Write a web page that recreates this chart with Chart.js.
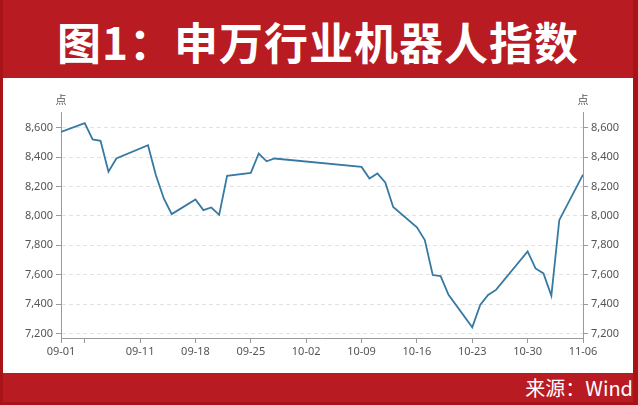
<!DOCTYPE html>
<html>
<head>
<meta charset="utf-8">
<script src="https://cdn.jsdelivr.net/npm/chart.js@4.4.0/dist/chart.umd.min.js"></script>
<style>
  html, body { margin: 0; padding: 0; }
  body { width: 638px; height: 405px; background: #a91318; position: relative; overflow: hidden; }
  #title { position: absolute; left: 3px; top: 0; width: 630px; height: 78px; background: #b81b21;
    color: #fff; font: bold 44px "Noto Sans CJK SC", sans-serif; text-align: center; line-height: 82px; letter-spacing: 1px; }
  #wrap { position: absolute; left: 3px; top: 78px; width: 630px; height: 295px; background: #fff; }
  #foot { position: absolute; left: 3px; top: 373px; width: 630px; height: 29px; background: #b81b21;
    color: #fff; font: 20px "Noto Sans CJK SC", sans-serif; text-align: right; line-height: 30px; }
</style>
</head>
<body>
<div id="title">图1：申万行业机器人指数</div>
<div id="wrap"><canvas id="c" width="630" height="295"></canvas></div>
<div id="foot">来源：Wind</div>
<script>
// trading dates and index close (points)
const dates = ['09-01','09-04','09-05','09-06','09-07','09-08','09-12','09-13','09-14','09-15',
  '09-18','09-19','09-20','09-21','09-22','09-25','09-26','09-27','09-28',
  '10-09','10-10','10-11','10-12','10-13','10-16','10-17','10-18','10-19','10-20',
  '10-23','10-24','10-25','10-26','10-30','10-31','11-01','11-02','11-03','11-06'];
const values = [8570, 8631, 8520, 8510, 8300, 8390, 8480, 8276, 8118, 8012,
  8112, 8039, 8057, 8007, 8272, 8292, 8424, 8371, 8390,
  8333, 8254, 8288, 8227, 8061, 7922, 7836, 7598, 7591, 7463,
  7243, 7394, 7463, 7497, 7759, 7643, 7609, 7457, 7971, 8280];
const xTickDates = ['09-01','09-04','09-11','09-18','09-25','10-02','10-09','10-16','10-23','10-30','11-06'];
const xTickLabels = ['09-01','','09-11','09-18','09-25','10-02','10-09','10-16','10-23','10-30','11-06'];
const yTicks = [7200, 7400, 7600, 7800, 8000, 8200, 8400, 8600];

// days since 09-01
const monthStart = { '09': 0, '10': 30, '11': 61 };
function dayOf(d) {
  const [m, dd] = d.split('-');
  return monthStart[m] + Number(dd) - 1;
}
const xTickVals = xTickDates.map(dayOf);

const tickFont = { family: '"Noto Sans", sans-serif', size: 11 };
const axisColor = '#9a9a9a';

const unitLabel = {
  id: 'unitLabel',
  afterDraw(chart) {
    const { ctx, chartArea } = chart;
    ctx.save();
    ctx.font = '11px "Noto Sans CJK SC", sans-serif';
    ctx.fillStyle = '#555';
    ctx.textAlign = 'center';
    ctx.textBaseline = 'middle';
    ctx.fillText('点', chartArea.left, 22);
    ctx.fillText('点', chartArea.right, 22);
    ctx.restore();
  }
};

function yAxis(pos) {
  return {
    position: pos,
    min: 7170,
    max: 8706,
    afterBuildTicks: s => { s.ticks = yTicks.map(v => ({ value: v })); },
    afterFit: s => { s.width = pos === 'left' ? 58 : 50; },
    ticks: { font: tickFont, color: '#555', padding: 3, callback: v => v.toLocaleString('en-US') },
    grid: { drawOnChartArea: pos === 'left', color: '#e2e2e2', tickLength: 5, tickColor: axisColor },
    border: { color: axisColor, dash: [4, 3] }
  };
}

new Chart(document.getElementById('c'), {
  type: 'line',
  data: {
    datasets: [{
      data: dates.map((d, i) => ({ x: dayOf(d), y: values[i] })),
      borderColor: '#3679a3',
      borderWidth: 1.8,
      pointRadius: 0,
      tension: 0,
      yAxisID: 'y'
    }]
  },
  options: {
    responsive: false,
    animation: false,
    layout: { padding: { top: 34, left: 0, right: 0, bottom: 0 } },
    plugins: { legend: { display: false }, tooltip: { enabled: false } },
    scales: {
      x: {
        type: 'linear',
        min: 0,
        max: 66,
        afterBuildTicks: s => { s.ticks = xTickVals.map(v => ({ value: v })); },
        afterFit: s => { s.height = 35; },
        ticks: {
          font: tickFont, color: '#555', padding: 2, autoSkip: false, maxRotation: 0,
          callback: v => xTickLabels[xTickVals.indexOf(v)]
        },
        grid: { drawOnChartArea: false, tickLength: 5, tickColor: axisColor },
        border: { color: axisColor }
      },
      y: yAxis('left'),
      y2: yAxis('right')
    }
  },
  plugins: [unitLabel]
});
</script>
</body>
</html>
